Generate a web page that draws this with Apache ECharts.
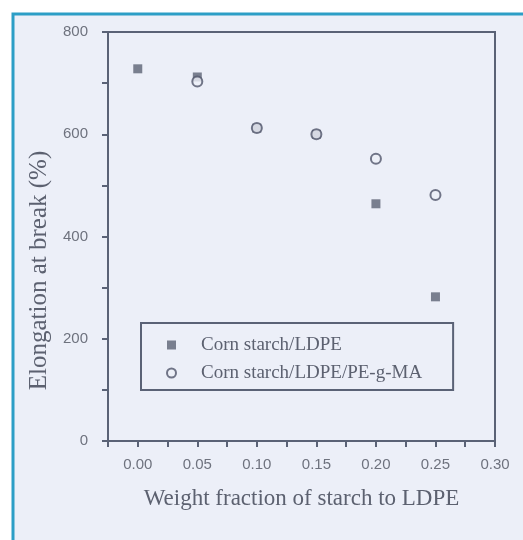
<!DOCTYPE html>
<html>
<head>
<meta charset="utf-8">
<script src="https://cdn.jsdelivr.net/npm/echarts@6/dist/echarts.min.js"></script>
<style>
  html, body { margin: 0; padding: 0; background: #fff; }
  #chart { width: 523px; height: 540px; }
</style>
</head>
<body>
<div id="chart"></div>
<script>
// values
var fractions = [0.00, 0.05, 0.10, 0.15, 0.20, 0.25];
var ldpe = [728, 712, 612, 600, 464, 282];           // Corn starch/LDPE
var fractionsMA = [0.05, 0.10, 0.15, 0.20, 0.25];
var ldpeMA = [703, 612, 600, 552, 481];               // Corn starch/LDPE/PE-g-MA
var seriesNames = ['Corn starch/LDPE', 'Corn starch/LDPE/PE-g-MA'];

var axisCol = '#5a6276';
var textCol = '#5c6170';
var labelCol = '#6e727e';

function pairs(xs, ys) {
  var out = [];
  xs.forEach(function (x, i) { out.push([x, ys[i]]); });
  return out;
}

var chart = echarts.init(document.getElementById('chart'));

var option = {
  backgroundColor: '#ffffff',
  animation: false,
  graphic: [{
    type: 'rect',
    z: -10,
    shape: { x: 13, y: 14, width: 620, height: 620 },
    style: { fill: '#eceff8', stroke: '#2c9ec6', lineWidth: 3 }
  }],
  grid: {
    left: 108, top: 32, right: 28, bottom: 99,
    show: true, borderColor: axisCol, borderWidth: 2, backgroundColor: 'transparent'
  },
  legend: {
    orient: 'vertical',
    left: 141, top: 323,
    padding: [12, 31, 7, 25],
    itemWidth: 9, itemHeight: 9, itemGap: 8,
    borderColor: axisCol, borderWidth: 2,
    textStyle: {
      fontFamily: 'Liberation Serif', fontSize: 19, color: textCol, lineHeight: 20,
      padding: [0, 0, 0, 20]
    },
    data: seriesNames
  },
  xAxis: {
    type: 'value',
    min: -0.025, max: 0.3, interval: 0.025,
    name: 'Weight fraction of starch to LDPE',
    nameLocation: 'middle', nameGap: 46,
    nameTextStyle: { fontFamily: 'Liberation Serif', fontSize: 23, color: textCol },
    splitLine: { show: false },
    axisLine: { onZero: false, lineStyle: { color: axisCol, width: 2 } },
    axisTick: { inside: false, length: 6, lineStyle: { color: axisCol, width: 2 } },
    axisLabel: {
      margin: 16, fontFamily: 'Liberation Sans', fontSize: 15, color: labelCol,
      formatter: function (v) {
        var k = Math.round(v * 1000);
        if (k < 0 || k % 50 !== 0) return '';
        return (k / 1000).toFixed(2);
      }
    }
  },
  yAxis: {
    type: 'value',
    min: 0, max: 800, interval: 100,
    name: 'Elongation at break (%)',
    nameLocation: 'middle', nameGap: 55,
    nameTextStyle: { fontFamily: 'Liberation Serif', fontSize: 25, color: textCol, padding: [0, 68, 0, 0] },
    splitLine: { show: false },
    axisLine: { onZero: false, lineStyle: { color: axisCol, width: 2 } },
    axisTick: { inside: false, length: 6, lineStyle: { color: axisCol, width: 2 } },
    axisLabel: {
      margin: 20, fontFamily: 'Liberation Sans', fontSize: 15, color: labelCol,
      formatter: function (v) { return v % 200 === 0 ? String(v) : ''; }
    }
  },
  series: [{
    name: seriesNames[0],
    type: 'scatter',
    symbol: 'rect',
    symbolSize: 9,
    itemStyle: { color: '#5d6374' },
    data: pairs(fractions, ldpe)
  }, {
    name: seriesNames[1],
    type: 'scatter',
    symbol: 'circle',
    symbolSize: 10,
    itemStyle: { color: '#eef0f8', borderColor: '#50556a', borderWidth: 2 },
    data: pairs(fractionsMA, ldpeMA)
  }]
};

chart.setOption(option);
</script>
</body>
</html>
